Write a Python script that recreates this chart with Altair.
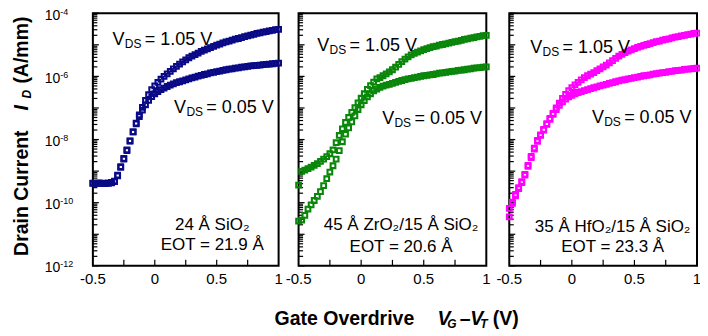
import math
import altair as alt
import pandas as pd

# ---------------- data (log10 of drain current, A/um) ----------------
VG = [-0.5, -0.475, -0.45, -0.425, -0.4, -0.375, -0.35, -0.325, -0.3, -0.275,
      -0.25, -0.225, -0.2, -0.175, -0.15, -0.125, -0.1, -0.075, -0.05, -0.025,
      0.0, 0.025, 0.05, 0.075, 0.1, 0.125, 0.15, 0.175, 0.2, 0.225,
      0.25, 0.275, 0.3, 0.325, 0.35, 0.375, 0.4, 0.425, 0.45, 0.475,
      0.5, 0.525, 0.55, 0.575, 0.6, 0.625, 0.65, 0.675, 0.7, 0.725,
      0.75, 0.775, 0.8, 0.825, 0.85, 0.875, 0.9, 0.925, 0.95, 0.975, 1.0]

SIO2_HI = [-9.38, -9.38, -9.38, -9.39, -9.39, -9.38, -9.37, -9.33, -9.15, -8.88,
           -8.62, -8.35, -8.05, -7.76, -7.48, -7.22, -6.98, -6.76, -6.58, -6.42,
           -6.30, -6.19, -6.09, -6.00, -5.92, -5.84, -5.76, -5.68, -5.61, -5.54,
           -5.48, -5.41, -5.36, -5.31, -5.26, -5.21, -5.17, -5.13, -5.09, -5.05,
           -5.01, -4.98, -4.94, -4.91, -4.88, -4.85, -4.82, -4.80, -4.77, -4.74,
           -4.72, -4.69, -4.67, -4.64, -4.62, -4.60, -4.58, -4.56, -4.54, -4.52, -4.51]
SIO2_LO = [-9.39, -9.39, -9.38, -9.38, -9.39, -9.38, -9.36, -9.32, -9.13, -8.86,
           -8.60, -8.33, -8.04, -7.76, -7.50, -7.27, -7.07, -6.90, -6.76, -6.64,
           -6.55, -6.48, -6.42, -6.37, -6.32, -6.28, -6.24, -6.20, -6.17, -6.14,
           -6.11, -6.08, -6.05, -6.02, -5.99, -5.97, -5.94, -5.92, -5.89, -5.87,
           -5.85, -5.83, -5.81, -5.79, -5.77, -5.76, -5.74, -5.73, -5.71, -5.70,
           -5.68, -5.67, -5.66, -5.65, -5.64, -5.63, -5.62, -5.61, -5.60, -5.59, -5.58]
ZRO2_HI = [-9.44, -9.01, -8.97, -8.92, -8.87, -8.82, -8.76, -8.69, -8.62, -8.54,
           -8.45, -8.33, -8.10, -7.87, -7.66, -7.46, -7.30, -7.14, -6.99, -6.84,
           -6.69, -6.55, -6.41, -6.29, -6.18, -6.08, -6.04, -5.98, -5.92, -5.86,
           -5.79, -5.71, -5.62, -5.53, -5.45, -5.38, -5.32, -5.27, -5.23, -5.19,
           -5.15, -5.12, -5.09, -5.06, -5.04, -5.01, -4.99, -4.97, -4.95, -4.92,
           -4.90, -4.88, -4.86, -4.83, -4.81, -4.79, -4.77, -4.75, -4.73, -4.71, -4.70]
ZRO2_LO = [-10.58, -10.55, -10.40, -10.20, -10.07, -9.93, -9.80, -9.65, -9.46, -9.24,
           -9.03, -8.83, -8.62, -8.35, -8.07, -7.83, -7.63, -7.44, -7.25, -7.05,
           -6.90, -6.77, -6.65, -6.55, -6.46, -6.40, -6.35, -6.31, -6.28, -6.25,
           -6.22, -6.19, -6.16, -6.13, -6.10, -6.08, -6.06, -6.04, -6.02, -6.00,
           -5.98, -5.97, -5.95, -5.94, -5.92, -5.90, -5.89, -5.87, -5.86, -5.84,
           -5.83, -5.81, -5.80, -5.79, -5.77, -5.76, -5.74, -5.73, -5.72, -5.71, -5.70]
HFO2_HI = [-10.18, -9.98, -9.74, -9.52, -9.33, -9.10, -8.82, -8.53, -8.27, -8.03,
           -7.85, -7.68, -7.50, -7.33, -7.17, -7.00, -6.85, -6.70, -6.57, -6.45,
           -6.36, -6.27, -6.19, -6.11, -6.04, -5.98, -5.93, -5.88, -5.82, -5.76,
           -5.70, -5.64, -5.57, -5.50, -5.43, -5.36, -5.30, -5.25, -5.20, -5.16,
           -5.12, -5.08, -5.05, -5.02, -4.99, -4.96, -4.93, -4.90, -4.88, -4.85,
           -4.83, -4.81, -4.78, -4.76, -4.74, -4.72, -4.70, -4.68, -4.66, -4.64, -4.63]
HFO2_LO = [-10.45, -10.02, -9.78, -9.55, -9.36, -9.13, -8.85, -8.57, -8.30, -8.06,
           -7.87, -7.70, -7.52, -7.36, -7.20, -7.05, -6.92, -6.81, -6.72, -6.65,
           -6.60, -6.55, -6.51, -6.48, -6.45, -6.42, -6.39, -6.36, -6.33, -6.30,
           -6.28, -6.25, -6.22, -6.20, -6.17, -6.14, -6.12, -6.10, -6.08, -6.06,
           -6.04, -6.02, -6.00, -5.98, -5.97, -5.95, -5.93, -5.91, -5.90, -5.88,
           -5.87, -5.85, -5.84, -5.82, -5.81, -5.80, -5.78, -5.77, -5.76, -5.75, -5.74]

X_TICK_LABELS = ["-0.5", "0", "0.5", "1"]
X_TICK_VALUES = [-0.5, 0.0, 0.5, 1.0]
X_MINOR = [-0.25, 0.0, 0.25, 0.5, 0.75]
Y_LABEL_EXP = [-4, -6, -8, -10, -12]

MATERIALS = [("24 Å SiO₂", "EOT = 21.9 Å"),
             ("45 Å ZrO₂/15 Å SiO₂", "EOT = 20.6 Å"),
             ("35 Å HfO₂/15 Å SiO₂", "EOT = 23.3 Å")]
VDS_TEXT = ["= 1.05 V", "= 0.05 V"]

# ---------------- layout / style ----------------
FONT = "Liberation Sans"
W, H = 605, 253
RANGES = [[0, 186], [206, 394], [417, 605]]
COLORS = ["#0a0a86", "#0a870a", "#ff00ff"]
# annotation anchors in data units (x [V], log10 I)
VDS_POS = [[(-0.341, -5.01), (0.156, -7.15)],
           [(-0.351, -5.20), (0.168, -7.52)],
           [(-0.332, -5.25), (0.160, -7.47)]]
MAT_POS = [(0.464, -10.86, -11.49), (0.319, -10.86, -11.55), (0.326, -10.92, -11.56)]

SERIES = [(SIO2_HI, SIO2_LO), (ZRO2_HI, ZRO2_LO), (HFO2_HI, HFO2_LO)]

one = pd.DataFrame({"a": [0]})
major_y = list(range(-12, -3))
minor_y = [n + math.log10(k) for n in range(-12, -4) for k in range(2, 10)]

ys = alt.Scale(domain=[-12, -4], nice=False, zero=False)


def panel(i):
    r0, r1 = RANGES[i]
    xs = alt.Scale(domain=[-0.5, 1.0], range=[r0, r1], nice=False, zero=False)
    hi, lo = SERIES[i]
    df = pd.DataFrame({
        "vg": VG + VG,
        "logid": hi + lo,
        "vds": ["1.05 V"] * len(VG) + ["0.05 V"] * len(VG),
    })
    X = lambda f: alt.X(f, scale=xs, axis=None)
    Y = lambda f: alt.Y(f, scale=ys, axis=None)

    layers = []
    layers.append(
        alt.Chart(one).mark_rect(fillOpacity=0, stroke="black", strokeWidth=2).encode(
            x=alt.value(r0), x2=alt.value(r1), y=alt.value(0), y2=alt.value(H))
    )
    layers.append(
        alt.Chart(pd.DataFrame({"p": major_y})).mark_rule(color="black", strokeWidth=1.2).encode(
            y=Y("p:Q"), x=alt.value(r0), x2=alt.value(r0 + 6))
    )
    layers.append(
        alt.Chart(pd.DataFrame({"p": minor_y})).mark_rule(color="black", strokeWidth=1.2).encode(
            y=Y("p:Q"), x=alt.value(r0), x2=alt.value(r0 + 4.5))
    )
    layers.append(
        alt.Chart(pd.DataFrame({"t": X_MINOR})).mark_rule(color="black", strokeWidth=1.2).encode(
            x=X("t:Q"), y=alt.value(H), y2=alt.value(H - 6))
    )
    layers.append(
        alt.Chart(pd.DataFrame({"t": X_TICK_VALUES, "lab": X_TICK_LABELS})).mark_text(
            font=FONT, fontSize=15, align="center", baseline="alphabetic", color="black").encode(
            x=X("t:Q"), y=alt.value(H + 17.7), text="lab:N")
    )
    layers.append(
        alt.Chart(df).mark_point(shape="square", filled=False, size=22, strokeWidth=2.1,
                                 color=COLORS[i], opacity=1).encode(
            x=X("vg:Q"), y=Y("logid:Q"), detail="vds:N")
    )
    # V_DS annotations
    ann = pd.DataFrame({
        "x": [p[0] for p in VDS_POS[i]],
        "y": [p[1] for p in VDS_POS[i]],
        "rest": VDS_TEXT,
    })
    base = alt.Chart(ann)
    layers.append(base.mark_text(font=FONT, fontSize=18, align="left", baseline="alphabetic",
                                 text="V", color="black").encode(x=X("x:Q"), y=Y("y:Q")))
    layers.append(base.mark_text(font=FONT, fontSize=12, align="left", baseline="alphabetic",
                                 text="DS", dx=12.3, dy=3, color="black").encode(x=X("x:Q"), y=Y("y:Q")))
    layers.append(base.mark_text(font=FONT, fontSize=18, align="left", baseline="alphabetic",
                                 dx=32.3, color="black").encode(x=X("x:Q"), y=Y("y:Q"), text="rest:N"))
    # material labels
    mx, my1, my2 = MAT_POS[i]
    mat = pd.DataFrame({"x": [mx, mx], "y": [my1, my2], "t": list(MATERIALS[i])})
    layers.append(alt.Chart(mat).mark_text(font=FONT, fontSize=17, align="center",
                                           baseline="alphabetic", color="black").encode(
        x=X("x:Q"), y=Y("y:Q"), text="t:N"))
    if i == 0:
        lab = pd.DataFrame({"e": Y_LABEL_EXP, "sup": [str(e) for e in Y_LABEL_EXP]})
        layers.append(alt.Chart(lab).mark_text(font=FONT, fontSize=14, align="right",
                                               baseline="alphabetic", text="10", dy=6.3,
                                               color="black").encode(
            y=Y("e:Q"), x=alt.value(-32.7)))
        layers.append(alt.Chart(lab).mark_text(font=FONT, fontSize=9, align="left",
                                               baseline="alphabetic", dy=1.5,
                                               color="black").encode(
            y=Y("e:Q"), x=alt.value(-32.7), text="sup:N"))
    return alt.layer(*layers)


def piece(text, x, y, size, italic=False, angle=0):
    kw = dict(text=text, font=FONT, fontSize=size, fontWeight="bold", align="left",
              baseline="alphabetic", color="black")
    if italic:
        kw["fontStyle"] = "italic"
    if angle:
        kw["angle"] = angle
    return alt.Chart(one).mark_text(**kw).encode(x=alt.value(x), y=alt.value(y))


titles = [
    piece("Gate Overdrive", 182, 312, 19.5),
    piece("V", 345, 312, 19.5, italic=True),
    piece("G", 355, 315, 12, italic=True),
    piece("–", 367.5, 312, 19.5),
    piece("V", 378, 312, 19.5, italic=True),
    piece("T", 388, 315, 12, italic=True),
    piece("(V)", 400.5, 312, 19.5),
    piece("Drain Current", -65, 243, 19.5, angle=270),
    piece("I", -65, 97.5, 19.5, italic=True, angle=270),
    piece("D", -62, 85.5, 12, italic=True, angle=270),
    piece("(A/mm)", -65, 70.5, 19.5, angle=270),
]

chart = alt.layer(
    alt.layer(panel(0), panel(1), panel(2)).resolve_scale(x="independent"),
    *titles,
).properties(
    width=W, height=H, autosize="none",
    padding={"left": 85, "top": 5, "right": 3, "bottom": 66},
).configure_view(stroke=None)

chart.save("out.html", embed_options={"renderer": "svg", "actions": False})
